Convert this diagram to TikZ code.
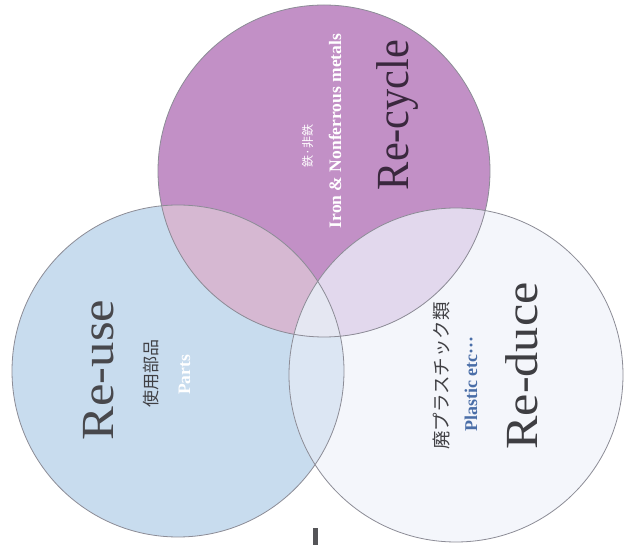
\documentclass[tikz,border=0pt]{standalone}
\usepackage{fontspec}
\setmainfont{Liberation Serif}
\newfontfamily\jpfont{Noto Sans CJK JP}
\definecolor{purpleC}{RGB}{194,144,198}
\definecolor{blueC}{RGB}{200,220,238}
\definecolor{rightC}{RGB}{244,246,251}
\definecolor{PBc}{RGB}{214,184,210}
\definecolor{PRc}{RGB}{226,216,237}
\definecolor{BRc}{RGB}{220,230,243}
\definecolor{PBRc}{RGB}{229,231,242}
\definecolor{edgeC}{RGB}{140,140,150}
\definecolor{cycleC}{RGB}{58,40,62}
\definecolor{useC}{RGB}{72,72,76}
\definecolor{duceC}{RGB}{62,62,66}
\definecolor{jpC}{RGB}{64,64,68}
\definecolor{plasticC}{RGB}{74,110,168}
\definecolor{barC}{RGB}{85,85,88}
\begin{document}
\begin{tikzpicture}[x=1pt,y=-1pt,
  edge/.style={draw=edgeC,line width=0.8pt},
  rtext/.style={rotate=90,anchor=base,inner sep=0pt},
  bigword/.style={rtext,font=\fontsize{46}{46}\selectfont},
  jptext/.style={rtext,text=jpC},
  engtext/.style={rtext,font=\bfseries\fontsize{17.5}{17.5}\selectfont}]
\fill[white] (0,0) rectangle (625,545);
\useasboundingbox (0,0) rectangle (625,545);
\coordinate (P) at (324,171);
\coordinate (B) at (178,371);
\coordinate (R) at (456,375);
% fills
\fill[blueC] (B) circle[radius=166pt];
\fill[rightC] (R) circle[radius=167pt];
\begin{scope}
  \clip (B) circle[radius=166pt];
  \fill[BRc] (R) circle[radius=167pt];
\end{scope}
\fill[purpleC] (P) circle[radius=166pt];
\begin{scope}
  \clip (P) circle[radius=166pt];
  \fill[PBc] (B) circle[radius=166pt];
  \fill[PRc] (R) circle[radius=167pt];
  \clip (B) circle[radius=166pt];
  \fill[PBRc] (R) circle[radius=167pt];
\end{scope}
% outlines
\draw[edge] (B) circle[radius=166pt];
\draw[edge] (R) circle[radius=167pt];
\draw[edge] (P) circle[radius=166pt];
% texts: Re-cycle
\node[bigword,text=cycleC] (cycle) at (408,115) {\scalebox{0.92}[1]{Re-cycle}};
\node[jptext,text=white,font=\jpfont\fontsize{12}{12}\selectfont] (tetsu) at (312,146) {鉄·非鉄};
\node[engtext,text=white] (iron) at (341,131) {Iron \& Nonferrous metals};
% Re-use
\node[bigword,text=useC] (use) at (113,370) {\scalebox{1.1}[1]{Re-use}};
\node[jptext,font=\jpfont\fontsize{17}{17}\selectfont] (buhin) at (157,374) {使用部品};
\node[engtext,text=white] (parts) at (190,375) {Parts};
% Re-duce
\node[bigword,text=duceC] (duce) at (537,366) {\scalebox{1.09}[1]{Re-duce}};
\node[jptext,font=\jpfont\fontsize{18.5}{18.5}\selectfont] (plajp) at (448,376) {廃プラスチック類};
\node[engtext,text=plasticC,font=\bfseries\fontsize{18}{18}\selectfont] (plastic) at (477,384) {Plastic etc···};
% bar at the bottom
\fill[barC] (313,528) rectangle (318,545);
\end{tikzpicture}
\end{document}
